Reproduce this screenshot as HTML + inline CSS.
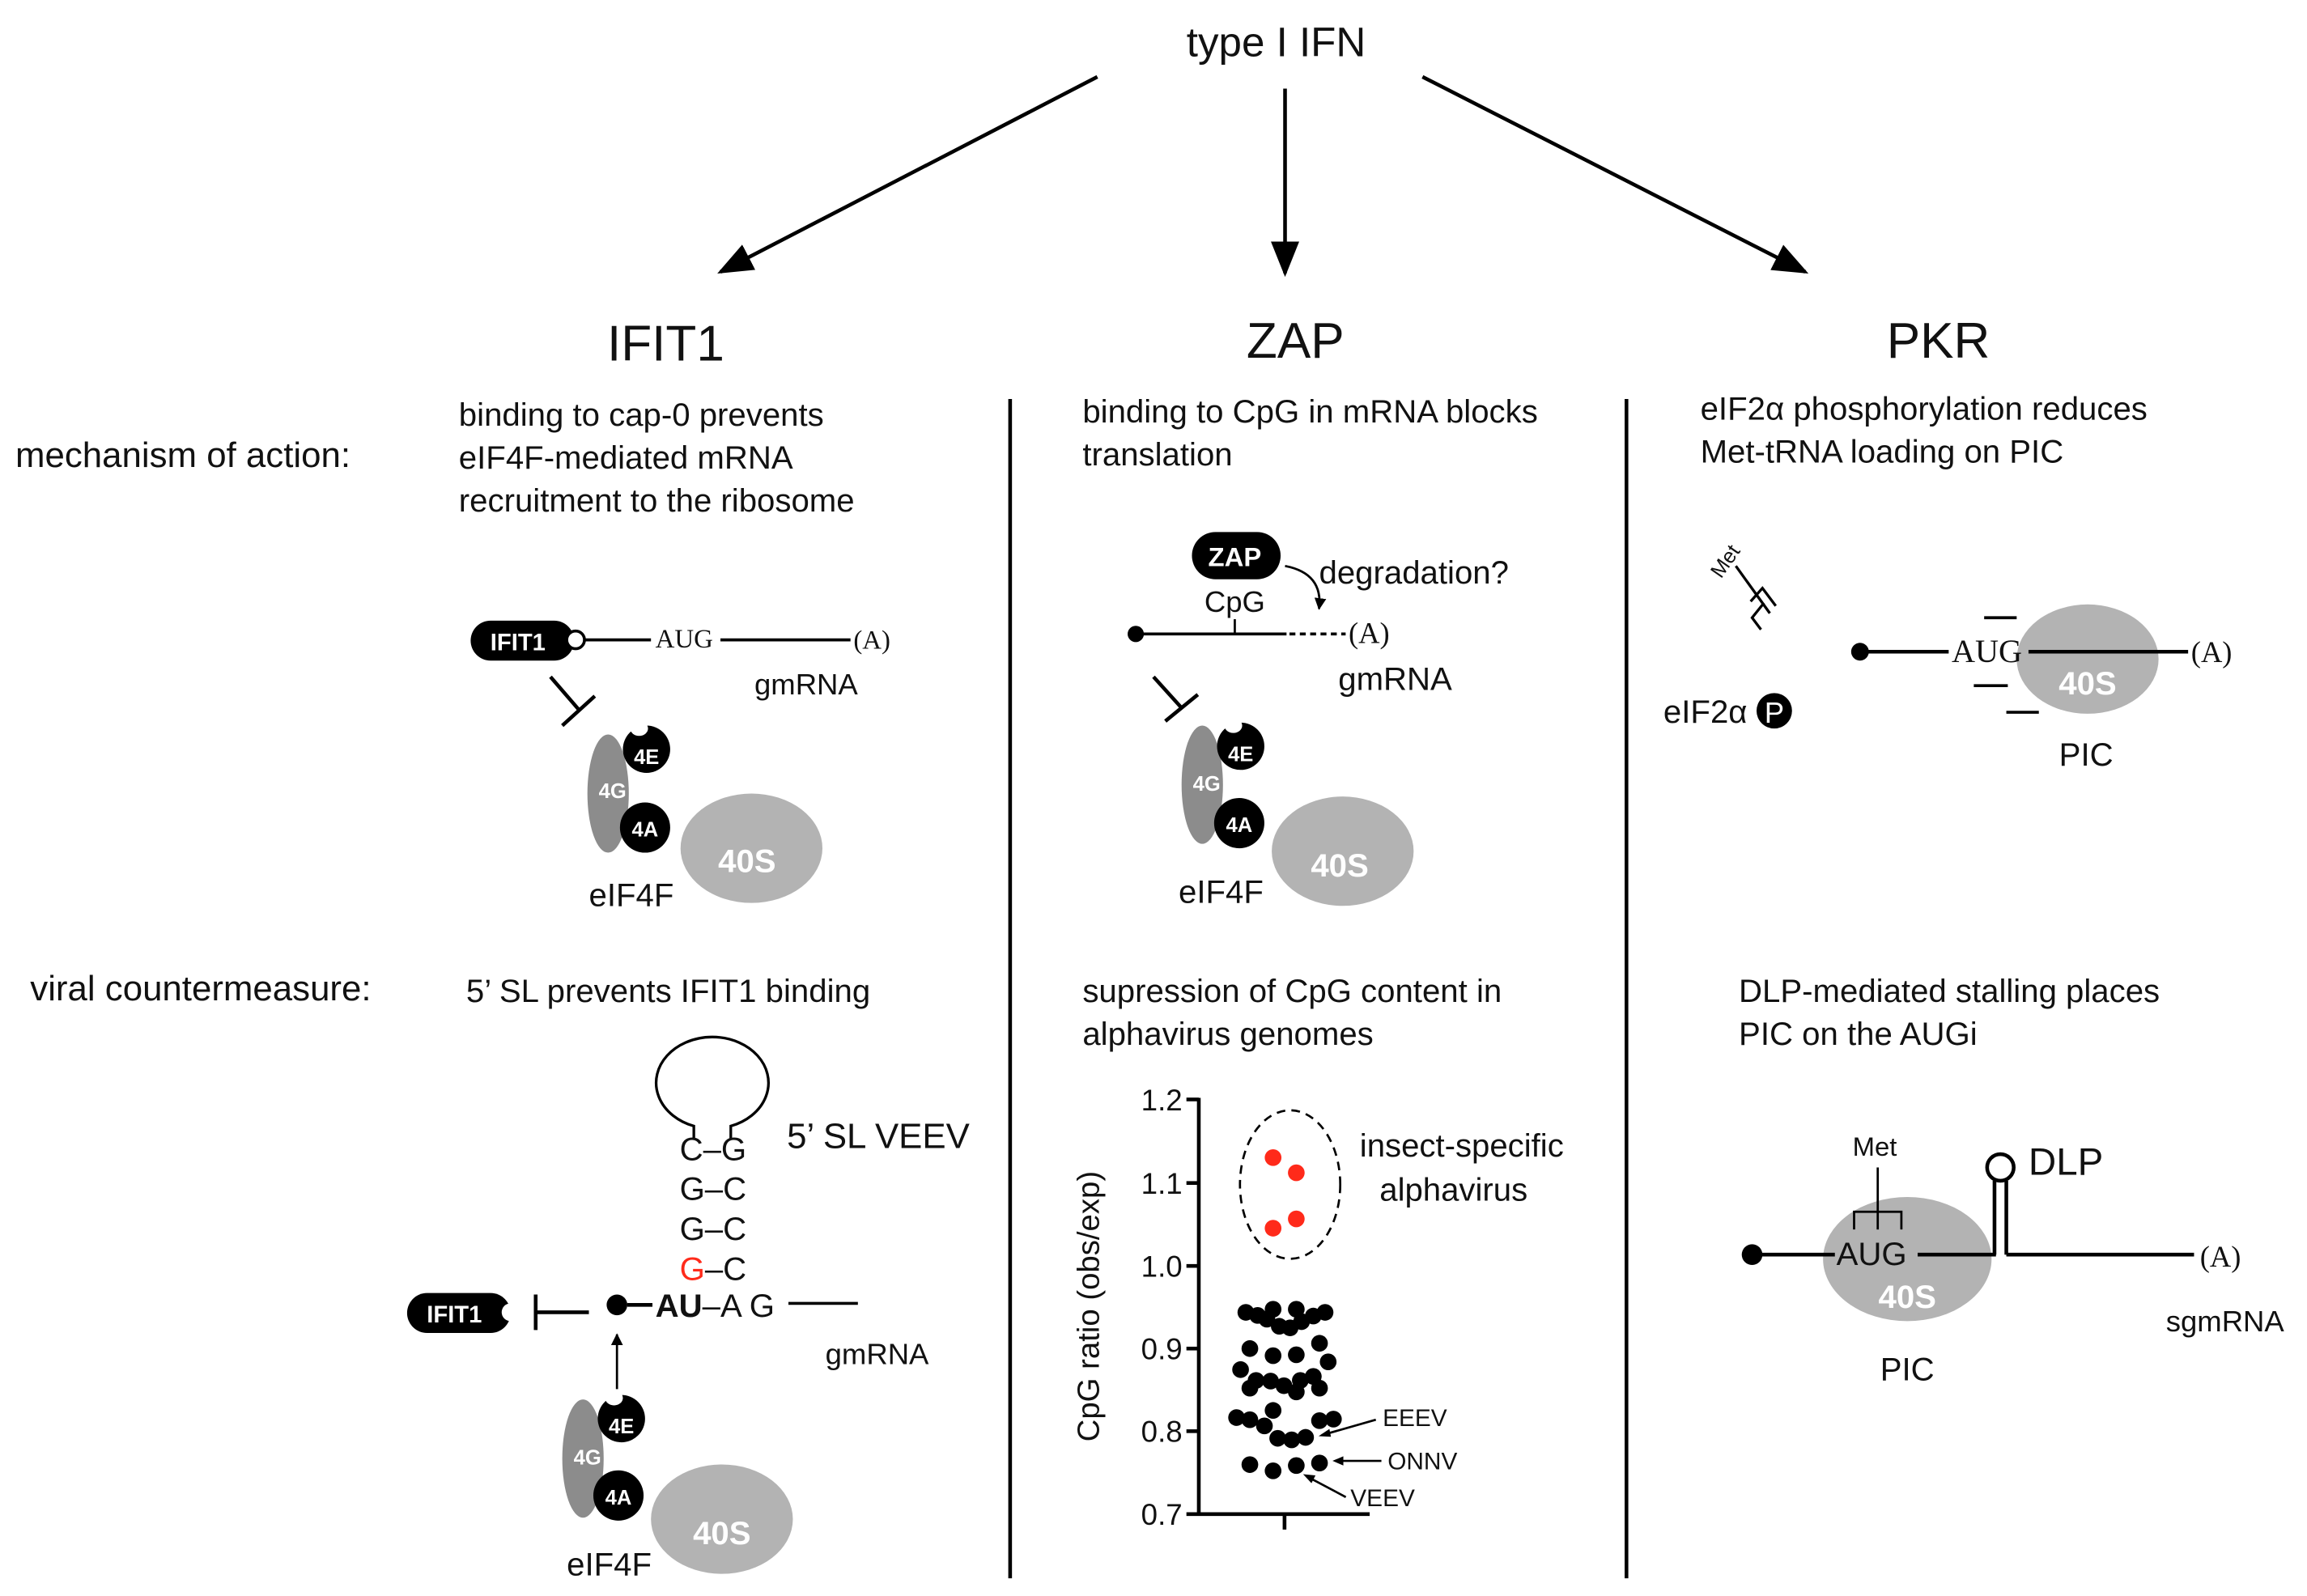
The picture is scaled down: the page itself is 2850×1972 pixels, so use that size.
<!DOCTYPE html>
<html><head><meta charset="utf-8"><style>
html,body{margin:0;padding:0;background:#fff}
svg{display:block}
text{font-family:"Liberation Sans",Arial,sans-serif;fill:#111}
.serif{font-family:"Liberation Serif","Times New Roman",serif}
.w{fill:#fff;font-weight:bold}
</style></head><body>
<svg width="2850" height="1972" viewBox="0 0 1560 1080" xmlns="http://www.w3.org/2000/svg">
<defs>
<marker id="ah" viewBox="0 0 10 10" refX="9" refY="5" markerWidth="8" markerHeight="8" markerUnits="userSpaceOnUse" orient="auto"><path d="M0,0L10,5L0,10z" fill="#000"/></marker>
<marker id="big" viewBox="0 0 10 10" refX="9" refY="5" markerWidth="24" markerHeight="24" markerUnits="userSpaceOnUse" orient="auto"><path d="M0,1L10,5L0,9z" fill="#000"/></marker>
</defs>
<text x="863" y="38" font-size="28" text-anchor="middle">type I IFN</text>
<g stroke="#000" stroke-width="2.5" fill="none">
<line x1="742" y1="52" x2="487" y2="184" marker-end="url(#big)"/>
<line x1="869" y1="60" x2="869" y2="185" marker-end="url(#big)"/>
<line x1="962" y1="52" x2="1221" y2="184" marker-end="url(#big)"/>
<line x1="683" y1="270" x2="683" y2="1068"/>
<line x1="1100" y1="270" x2="1100" y2="1068"/>
</g>
<text x="450" y="244" font-size="34" text-anchor="middle">IFIT1</text>
<text x="876" y="242" font-size="34" text-anchor="middle">ZAP</text>
<text x="1311" y="242" font-size="34" text-anchor="middle">PKR</text>

<text x="10" y="316" font-size="24">mechanism of action:</text>
<g font-size="22">
<text x="310" y="288">binding to cap-0 prevents</text>
<text x="310" y="317">eIF4F-mediated mRNA</text>
<text x="310" y="346">recruitment to the ribosome</text>
<text x="732" y="286">binding to CpG in mRNA blocks</text>
<text x="732" y="315">translation</text>
<text x="1150" y="284">eIF2α phosphorylation reduces</text>
<text x="1150" y="313">Met-tRNA loading on PIC</text>
</g>

<rect x="318" y="420" width="70" height="27" rx="13.5" fill="#000"/>
<text x="350" y="440" font-size="16" class="w" text-anchor="middle">IFIT1</text>
<circle cx="389" cy="433" r="6" fill="#fff" stroke="#000" stroke-width="2"/>
<line x1="395" y1="433" x2="440" y2="433" stroke="#000" stroke-width="2"/>
<text x="443" y="438" font-size="18" class="serif">AUG</text>
<line x1="487" y1="433" x2="575" y2="433" stroke="#000" stroke-width="2"/>
<text x="577" y="439" font-size="18" class="serif">(A)</text>
<text x="510" y="470" font-size="20">gmRNA</text>
<g stroke="#000" stroke-width="2.5"><line x1="372" y1="458" x2="391" y2="480"/><line x1="380" y1="491" x2="402" y2="471"/></g>
<g>
<ellipse cx="508" cy="574" rx="48" ry="37" fill="#b3b3b3"/>
<ellipse cx="411" cy="537" rx="14" ry="40" fill="#8c8c8c"/>
<circle cx="437" cy="507" r="16" fill="#000"/><ellipse cx="432" cy="493" rx="6" ry="5" fill="#fff"/>
<circle cx="436" cy="560" r="17" fill="#000"/>
<text x="437" y="517" font-size="14" class="w" text-anchor="middle">4E</text>
<text x="414" y="540" font-size="14" class="w" text-anchor="middle">4G</text>
<text x="436" y="566" font-size="14" class="w" text-anchor="middle">4A</text>
<text x="505" y="590" font-size="22" class="w" text-anchor="middle">40S</text>
<text x="398" y="613" font-size="22">eIF4F</text>
</g>

<rect x="806" y="360" width="60" height="32" rx="16" fill="#000"/>
<text x="835" y="383" font-size="18" class="w" text-anchor="middle">ZAP</text>
<text x="835" y="414" font-size="20" text-anchor="middle">CpG</text>
<line x1="835" y1="419" x2="835" y2="429" stroke="#000" stroke-width="1.5"/>
<path d="M869,383 Q895,388 892,412" stroke="#000" stroke-width="1.5" fill="none" marker-end="url(#ah)"/>
<text x="892" y="395" font-size="22">degradation?</text>
<circle cx="768" cy="429" r="5.5" fill="#000"/>
<line x1="768" y1="429" x2="870" y2="429" stroke="#000" stroke-width="2"/>
<line x1="872" y1="429" x2="910" y2="429" stroke="#000" stroke-width="2" stroke-dasharray="4,3"/>
<text x="912" y="435" font-size="20" class="serif">(A)</text>
<text x="905" y="467" font-size="22">gmRNA</text>
<g stroke="#000" stroke-width="2.5"><line x1="780" y1="458" x2="799" y2="479"/><line x1="788" y1="488" x2="810" y2="470"/></g>
<g>
<ellipse cx="908" cy="576" rx="48" ry="37" fill="#b3b3b3"/>
<ellipse cx="813" cy="531" rx="14" ry="40" fill="#8c8c8c"/>
<circle cx="839" cy="505" r="16" fill="#000"/><ellipse cx="834" cy="491" rx="6" ry="5" fill="#fff"/>
<circle cx="838" cy="557" r="17" fill="#000"/>
<text x="839" y="515" font-size="14" class="w" text-anchor="middle">4E</text>
<text x="816" y="535" font-size="14" class="w" text-anchor="middle">4G</text>
<text x="838" y="563" font-size="14" class="w" text-anchor="middle">4A</text>
<text x="906" y="593" font-size="22" class="w" text-anchor="middle">40S</text>
<text x="797" y="611" font-size="22">eIF4F</text>
</g>

<text x="1164" y="392" font-size="14" transform="rotate(-55 1164 392)">Met</text>
<g stroke="#000" stroke-width="1.8" fill="none">
<line x1="1174" y1="383" x2="1197" y2="415"/>
<polyline points="1184,407 1192,398 1201,410"/>
<polyline points="1191,426 1185,418 1193,408"/>
</g>
<text x="1125" y="489" font-size="22">eIF2α</text>
<circle cx="1200" cy="481" r="12" fill="#000"/>
<text x="1200" y="489" font-size="20" text-anchor="middle" style="fill:#fff">P</text>
<ellipse cx="1412" cy="446" rx="48" ry="37" fill="#b3b3b3"/>
<circle cx="1258" cy="441" r="6" fill="#000"/>
<line x1="1258" y1="441" x2="1318" y2="441" stroke="#000" stroke-width="2.5"/>
<text x="1320" y="448" font-size="22" class="serif">AUG</text>
<line x1="1372" y1="441" x2="1480" y2="441" stroke="#000" stroke-width="2.5"/>
<text x="1482" y="448" font-size="20" class="serif">(A)</text>
<g stroke="#000" stroke-width="2"><line x1="1342" y1="418" x2="1364" y2="418"/><line x1="1335" y1="464" x2="1358" y2="464"/><line x1="1357" y1="482" x2="1379" y2="482"/></g>
<text x="1412" y="470" font-size="22" class="w" text-anchor="middle">40S</text>
<text x="1411" y="518" font-size="22" text-anchor="middle">PIC</text>

<text x="20" y="677" font-size="24">viral countermeasure:</text>
<g font-size="22">
<text x="315" y="678">5’ SL prevents IFIT1 binding</text>
<text x="732" y="678">supression of CpG content in</text>
<text x="732" y="707">alphavirus genomes</text>
<text x="1176" y="678">DLP-mediated stalling places</text>
<text x="1176" y="707">PIC on the AUGi</text>
</g>

<path d="M469,771 L469,762 A38,31 0 1 1 494,762 L494,771" stroke="#000" stroke-width="1.8" fill="none"/>
<g font-size="22" text-anchor="middle">
<text x="482" y="785">C–G</text>
<text x="482" y="812">G–C</text>
<text x="482" y="839">G–C</text>
<text x="482" y="866"><tspan style="fill:#ff2a1a">G</tspan>–C</text>
</g>
<text x="532" y="777" font-size="24">5’ SL VEEV</text>
<rect x="275" y="875" width="70" height="27" rx="13.5" fill="#000"/>
<text x="307" y="895" font-size="16" class="w" text-anchor="middle">IFIT1</text>
<circle cx="345" cy="888" r="6" fill="#fff"/>
<g stroke="#000" stroke-width="2.5"><line x1="362" y1="876" x2="362" y2="900"/><line x1="362" y1="888" x2="398" y2="888"/></g>
<circle cx="417" cy="883" r="7" fill="#000"/>
<line x1="424" y1="883" x2="441" y2="883" stroke="#000" stroke-width="2.5"/>
<text x="443" y="891" font-size="22"><tspan font-weight="bold">AU</tspan>–A G</text>
<line x1="533" y1="882" x2="580" y2="882" stroke="#000" stroke-width="2"/>
<text x="558" y="923" font-size="20">gmRNA</text>
<line x1="417" y1="940" x2="417" y2="903" stroke="#000" stroke-width="1.5" marker-end="url(#ah)"/>
<g>
<ellipse cx="488" cy="1028" rx="48" ry="37" fill="#b3b3b3"/>
<ellipse cx="394" cy="987" rx="14" ry="40" fill="#8c8c8c"/>
<circle cx="420" cy="960" r="16" fill="#000"/><ellipse cx="415" cy="946" rx="6" ry="5" fill="#fff"/>
<circle cx="418" cy="1012" r="17" fill="#000"/>
<text x="420" y="970" font-size="14" class="w" text-anchor="middle">4E</text>
<text x="397" y="991" font-size="14" class="w" text-anchor="middle">4G</text>
<text x="418" y="1018" font-size="14" class="w" text-anchor="middle">4A</text>
<text x="488" y="1045" font-size="22" class="w" text-anchor="middle">40S</text>
<text x="383" y="1066" font-size="22">eIF4F</text>
</g>

<text font-size="21" transform="translate(743 884) rotate(-90)" text-anchor="middle">CpG ratio (obs/exp)</text>
<g transform="translate(765 722) scale(0.2094)">
<g stroke="#000" stroke-width="12" fill="none">
<line x1="218" y1="100" x2="218" y2="1445"/>
<line x1="178" y1="1445" x2="770" y2="1445"/>
<line x1="495" y1="1445" x2="495" y2="1495"/>
<line x1="178" y1="105" x2="218" y2="105"/><line x1="178" y1="375" x2="218" y2="375"/><line x1="178" y1="643" x2="218" y2="643"/><line x1="178" y1="910" x2="218" y2="910"/><line x1="178" y1="1177" x2="218" y2="1177"/>
</g>
<g font-size="96" text-anchor="end">
<text x="165" y="140">1.2</text><text x="165" y="410">1.1</text><text x="165" y="678">1.0</text><text x="165" y="945">0.9</text><text x="165" y="1212">0.8</text><text x="165" y="1480">0.7</text>
</g>
<ellipse cx="513" cy="380" rx="162" ry="240" fill="none" stroke="#000" stroke-width="7" stroke-dasharray="28,20"/>
<g fill="#ff2a1a"><circle cx="458" cy="293" r="27"/><circle cx="533" cy="342" r="27"/><circle cx="533" cy="491" r="27"/><circle cx="458" cy="521" r="27"/></g>
<g fill="#000">
<circle cx="370" cy="793" r="27"/><circle cx="408" cy="803" r="27"/><circle cx="438" cy="815" r="27"/><circle cx="458" cy="783" r="27"/><circle cx="478" cy="838" r="27"/><circle cx="513" cy="843" r="27"/><circle cx="533" cy="783" r="27"/><circle cx="550" cy="823" r="27"/><circle cx="588" cy="805" r="27"/><circle cx="626" cy="793" r="27"/>
<circle cx="383" cy="910" r="27"/><circle cx="458" cy="933" r="27"/><circle cx="533" cy="930" r="27"/><circle cx="608" cy="893" r="27"/><circle cx="636" cy="953" r="27"/><circle cx="353" cy="978" r="27"/>
<circle cx="383" cy="1038" r="27"/><circle cx="403" cy="1013" r="27"/><circle cx="450" cy="1015" r="27"/><circle cx="493" cy="1030" r="27"/><circle cx="533" cy="1050" r="27"/><circle cx="546" cy="1013" r="27"/><circle cx="588" cy="1000" r="27"/><circle cx="608" cy="1038" r="27"/>
<circle cx="340" cy="1133" r="27"/><circle cx="383" cy="1140" r="27"/><circle cx="430" cy="1160" r="27"/><circle cx="458" cy="1110" r="27"/><circle cx="473" cy="1200" r="27"/><circle cx="518" cy="1205" r="27"/><circle cx="563" cy="1197" r="27"/><circle cx="608" cy="1143" r="27"/><circle cx="653" cy="1138" r="27"/>
<circle cx="383" cy="1285" r="27"/><circle cx="458" cy="1305" r="27"/><circle cx="533" cy="1288" r="27"/><circle cx="608" cy="1280" r="27"/>
</g>
<g stroke="#000" stroke-width="7">
<line x1="790" y1="1140" x2="615" y2="1190"/><line x1="808" y1="1273" x2="660" y2="1273"/><line x1="693" y1="1390" x2="565" y2="1322"/>
</g>
<g fill="#000"><path d="M605,1193 L640,1170 L645,1195z"/><path d="M650,1273 L685,1258 L685,1288z"/><path d="M555,1316 L595,1320 L582,1345z"/></g>
<g font-size="78"><text x="812" y="1160">EEEV</text><text x="828" y="1300">ONNV</text><text x="708" y="1420">VEEV</text></g>
<g font-size="105"><text x="738" y="290">insect-specific</text><text x="802" y="432">alphavirus</text></g>
</g>

<ellipse cx="1290" cy="852" rx="57" ry="42" fill="#b3b3b3"/>
<circle cx="1185" cy="849" r="7" fill="#000"/>
<line x1="1185" y1="849" x2="1241" y2="849" stroke="#000" stroke-width="2.5"/>
<text x="1242" y="856" font-size="22">AUG</text>
<g stroke="#000" stroke-width="2.5" fill="none">
<line x1="1297" y1="849" x2="1350" y2="849"/>
<line x1="1349" y1="849" x2="1349" y2="799"/><line x1="1357" y1="849" x2="1357" y2="799"/>
<line x1="1357" y1="849" x2="1484" y2="849"/>
</g>
<circle cx="1353" cy="790" r="9" fill="#fff" stroke="#000" stroke-width="2.5"/>
<text x="1372" y="795" font-size="26">DLP</text>
<text x="1488" y="857" font-size="20" class="serif">(A)</text>
<text x="1253" y="782" font-size="18">Met</text>
<g stroke="#000" stroke-width="1.5" fill="none"><line x1="1270" y1="790" x2="1270" y2="820"/><polyline points="1254,832 1254,820 1286,820 1286,832"/><line x1="1270" y1="820" x2="1270" y2="832"/></g>
<text x="1290" y="885" font-size="22" class="w" text-anchor="middle">40S</text>
<text x="1290" y="934" font-size="22" text-anchor="middle">PIC</text>
<text x="1465" y="901" font-size="20">sgmRNA</text>
</svg>
</body></html>
